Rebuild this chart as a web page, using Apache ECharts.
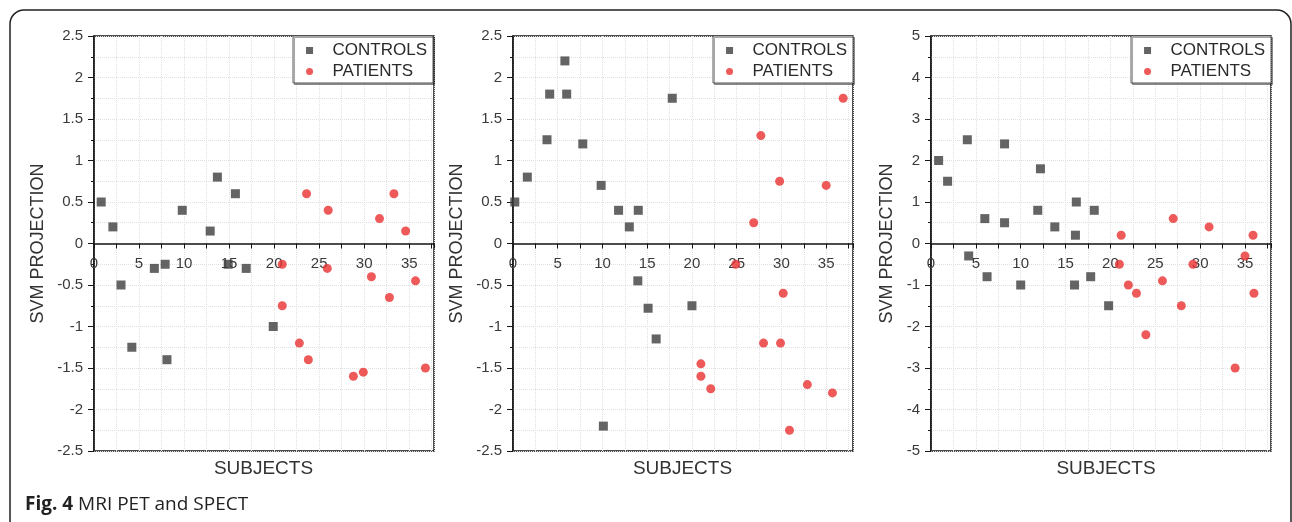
<!DOCTYPE html>
<html>
<head>
<meta charset="utf-8">
<script src="https://cdn.jsdelivr.net/npm/echarts@6/dist/echarts.min.js"></script>
<style>
  html, body { margin: 0; padding: 0; background: #fff; }
  #visualisation { width: 1292px; height: 522px; }
</style>
</head>
<body>
<div id="visualisation"></div>
<script>
// Data: [subject, svm projection]
const mriControls = [[0.8, 0.5], [2.1, 0.2], [3.0, -0.5], [4.2, -1.25], [6.7, -0.3], [7.9, -0.25], [8.1, -1.4],
    [9.8, 0.4], [12.9, 0.15], [13.7, 0.8], [14.9, -0.25], [15.7, 0.6], [16.9, -0.3], [19.9, -1.0]];
const mriPatients = [[20.9, -0.25], [20.9, -0.75], [22.8, -1.2], [23.6, 0.6], [23.8, -1.4], [25.9, -0.3], [26.0, 0.4],
    [28.8, -1.6], [29.9, -1.55], [30.8, -0.4], [31.7, 0.3], [32.8, -0.65], [33.3, 0.6], [34.6, 0.15], [35.7, -0.45], [36.8, -1.5]];

const petControls = [[0.2, 0.5], [1.6, 0.8], [3.8, 1.25], [4.1, 1.8], [5.8, 2.2], [6.0, 1.8], [7.8, 1.2], [9.85, 0.7],
    [10.1, -2.2], [11.8, 0.4], [13.0, 0.2], [13.95, -0.45], [14.0, 0.4], [15.1, -0.78], [16.0, -1.15], [17.8, 1.75], [20.0, -0.75]];
const petPatients = [[21.0, -1.45], [21.0, -1.6], [22.1, -1.75], [24.9, -0.25], [26.9, 0.25], [27.7, 1.3], [28.0, -1.2],
    [29.8, 0.75], [29.9, -1.2], [30.2, -0.6], [30.9, -2.25], [32.9, -1.7], [35.0, 0.7], [35.7, -1.8], [36.9, 1.75]];

const spectControls = [[0.85, 2.0], [1.85, 1.5], [4.05, 2.5], [4.2, -0.3], [6.0, 0.6], [6.25, -0.8], [8.2, 2.4], [8.2, 0.5],
    [10.0, -1.0], [11.9, 0.8], [12.2, 1.8], [13.8, 0.4], [16.0, -1.0], [16.1, 0.2], [16.2, 1.0], [17.8, -0.8], [18.2, 0.8], [19.8, -1.5]];
const spectPatients = [[21.0, -0.5], [21.2, 0.2], [22.0, -1.0], [22.9, -1.2], [23.95, -2.2], [25.8, -0.9], [27.0, 0.6],
    [27.9, -1.5], [29.2, -0.5], [31.0, 0.4], [33.9, -3.0], [35.0, -0.3], [35.9, 0.2], [36.0, -1.2]];

// Axis ranges per panel
const xMax = [37.75, 38.0, 37.9];
const yRange = [[-2.5, 2.5, 0.5], [-2.5, 2.5, 0.5], [-5, 5, 1]];
const legendNames = ['CONTROLS', 'PATIENTS'];
const xTitle = 'SUBJECTS';
const yTitle = 'SVM PROJECTION';
const caption = 'MRI PET and SPECT';

const panels = [
    { controls: mriControls, patients: mriPatients, left: 94, nameGap: 47, legendRight: 859, titleX: 263.5 },
    { controls: petControls, patients: petPatients, left: 513, nameGap: 47, legendRight: 439, titleX: 682.5 },
    { controls: spectControls, patients: spectPatients, left: 931, nameGap: 35, legendRight: 21, titleX: 1106 }
];

const font = 'Liberation Sans, Arial, sans-serif';
const axisColor = '#151515';
const gridColor = '#e0e0e0';
const squareIcon = 'path://M0,0h10v10h-10z';
const plotHeight = 415;

function drawVisualisation() {
    let visualisation = echarts.init(document.getElementById('visualisation'));
    window.onresize = () => visualisation.resize();

    let option = {
        animation: false,
        backgroundColor: '#fff',
        grid: [],
        xAxis: [],
        yAxis: [],
        legend: [],
        series: [],
        graphic: []
    };

    panels.forEach((p, i) => {
        let [yMin, yMax, yStep] = yRange[i];

        option.grid.push({
            left: p.left, top: 36, width: 340, height: plotHeight,
            show: true, borderColor: axisColor, borderWidth: 1.5
        });

        // x axis sits on y = 0, moved up from the bottom of the plot
        option.xAxis.push({
            type: 'value', gridIndex: i, min: 0, max: xMax[i], interval: 2.5,
            position: 'bottom', offset: -plotHeight * (0 - yMin) / (yMax - yMin),
            axisLine: { onZero: false, lineStyle: { color: axisColor, width: 1.5 } },
            axisTick: { show: true, length: 5, lineStyle: { color: axisColor } },
            axisLabel: {
                color: '#3a3a3a', fontSize: 15, fontFamily: font, margin: 13,
                formatter: v => (v % 5 === 0 ? String(v) : '')
            },
            splitLine: { show: true, lineStyle: { color: gridColor, type: 'dotted' } }
        });

        option.yAxis.push({
            type: 'value', gridIndex: i, min: yMin, max: yMax, interval: yStep,
            axisLine: { show: true, onZero: false, lineStyle: { color: axisColor, width: 1.5 } },
            axisTick: { show: true, length: 6, lineStyle: { color: axisColor } },
            minorTick: { show: true, splitNumber: 2, length: 3, lineStyle: { color: axisColor } },
            axisLabel: { color: '#3a3a3a', fontSize: 15, fontFamily: font, margin: 11 },
            splitLine: { show: true, lineStyle: { color: gridColor, type: 'dotted' } },
            minorSplitLine: { show: true, lineStyle: { color: gridColor, type: 'dotted' } },
            name: yTitle, nameLocation: 'middle', nameRotate: 90, nameGap: p.nameGap,
            nameTextStyle: { color: '#333', fontSize: 18, fontFamily: font }
        });

        option.legend.push({
            orient: 'vertical', right: p.legendRight, top: 36,
            itemWidth: 20, itemHeight: 7, itemGap: 4,
            padding: [6, 6, 3, 13],
            backgroundColor: '#fff', borderColor: '#555', borderWidth: 1,
            shadowColor: 'rgba(0,0,0,0.35)', shadowOffsetX: 1.5, shadowOffsetY: 1.5,
            textStyle: { color: '#2a2a2a', fontSize: 17, fontFamily: font, lineHeight: 17, padding: [0, 0, 0, 8] },
            data: [
                { name: legendNames[0], icon: squareIcon },
                { name: legendNames[1], icon: 'circle' }
            ]
        });

        option.series.push({
            type: 'scatter', name: legendNames[0], xAxisIndex: i, yAxisIndex: i,
            symbol: 'rect', symbolSize: 9, itemStyle: { color: '#3d3d3d' },
            data: p.controls
        });
        option.series.push({
            type: 'scatter', name: legendNames[1], xAxisIndex: i, yAxisIndex: i,
            symbol: 'circle', symbolSize: 9, itemStyle: { color: '#e8312f' },
            data: p.patients
        });

        option.graphic.push({
            type: 'text', x: p.titleX, y: 469,
            style: { text: xTitle, fill: '#333', font: '19px ' + font, textAlign: 'center', textVerticalAlign: 'middle' }
        });
    });

    // Rounded frame around the figure and the caption
    option.graphic.push({
        type: 'rect', shape: { x: 10, y: 10, width: 1281, height: 530, r: 14 },
        style: { fill: 'none', stroke: '#222', lineWidth: 1.5 }, silent: true
    });
    option.graphic.push({
        type: 'text', x: 25, y: 505,
        style: {
            text: '{b|Fig. 4} ' + caption,
            fill: '#222', font: '19px Open Sans', textVerticalAlign: 'middle',
            rich: { b: { fontWeight: 'bold', fontSize: 19, fontFamily: 'Open Sans', fill: '#222' } }
        }
    });

    visualisation.setOption(option);
}

window.addEventListener('load', drawVisualisation);
</script>
</body>
</html>
